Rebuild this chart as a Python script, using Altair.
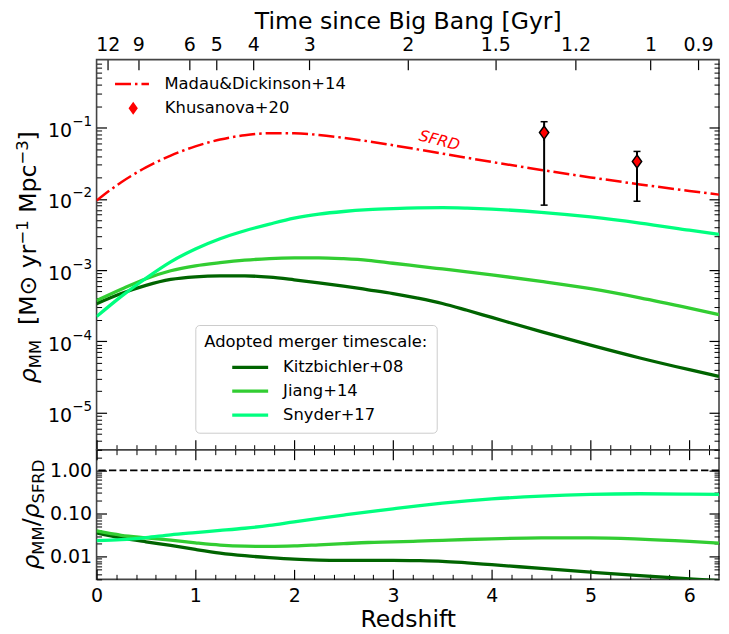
import altair as alt
import numpy as np
import pandas as pd

# ---------------- values ----------------
redshift = [0.0, 0.25, 0.5, 0.75, 1.0, 1.25, 1.5, 1.75, 2.0, 2.25, 2.5, 2.75,
            3.0, 3.25, 3.5, 3.75, 4.0, 4.5, 5.0, 5.5, 6.0, 6.3]
sfrd_md14 = [0.00943, 0.01711, 0.02756, 0.04043, 0.05459, 0.06798, 0.07813, 0.08326,
             0.08308, 0.07872, 0.07194, 0.06421, 0.05655, 0.04947, 0.04314, 0.03767,
             0.03295, 0.02546, 0.01999, 0.01594, 0.01291, 0.01145]
rho_kitzbichler = [3.37e-4, 4.68e-4, 6.10e-4, 7.38e-4, 8.04e-4, 8.26e-4, 8.26e-4, 7.94e-4,
                   7.29e-4, 6.61e-4, 5.94e-4, 5.28e-4, 4.68e-4, 4.03e-4, 3.39e-4, 2.72e-4,
                   2.16e-4, 1.365e-4, 8.81e-5, 5.82e-5, 3.98e-5, 3.20e-5]
rho_jiang = [3.72e-4, 5.37e-4, 7.55e-4, 9.77e-4, 1.146e-3, 1.268e-3, 1.374e-3, 1.445e-3,
             1.479e-3, 1.486e-3, 1.445e-3, 1.371e-3, 1.245e-3, 1.135e-3, 1.035e-3, 9.44e-4,
             8.57e-4, 6.92e-4, 5.46e-4, 4.07e-4, 2.92e-4, 2.37e-4]
rho_snyder = [2.22e-4, 4.27e-4, 7.67e-4, 1.303e-3, 1.977e-3, 2.754e-3, 3.565e-3, 4.416e-3,
              5.358e-3, 6.095e-3, 6.637e-3, 7.031e-3, 7.278e-3, 7.447e-3, 7.499e-3, 7.379e-3,
              7.161e-3, 6.457e-3, 5.559e-3, 4.571e-3, 3.631e-3, 3.162e-3]
models = ["Kitzbichler+08", "Jiang+14", "Snyder+17"]
model_colors = ["#006400", "#32CD32", "#00FF7F"]
md_label = "Madau&Dickinson+14"
kh_label = "Khusanova+20"
kh_z = [4.53, 5.47]
kh_rho = [0.0851, 0.0335]
kh_lo = [0.00815, 0.00925]
kh_hi = [0.121, 0.0463]
time_ticks = [12, 9, 6, 5, 4, 3, 2, 1.5, 1.2, 1, 0.9]
top_y_ticks = [1e-5, 1e-4, 1e-3, 1e-2, 1e-1]
ratio_y_ticks = [0.01, 0.1, 1.0]
z_ticks = [0, 1, 2, 3, 4, 5, 6]


def z_at_age(t_gyr, H0=70.0, Om=0.3):
    OL = 1.0 - Om
    t_H = 977.8 / H0
    x = np.sinh(1.5 * np.sqrt(OL) * t_gyr / t_H)
    return (x / np.sqrt(OL / Om)) ** (-2.0 / 3.0) - 1.0


time_z = [round(float(z_at_age(t)), 4) for t in time_ticks]
time_lab = [f"{t:g}" for t in time_ticks]
time_expr = f"'{time_lab[-1]}'"
for i in range(len(time_z) - 2, -1, -1):
    mid = (time_z[i] + time_z[i + 1]) / 2
    time_expr = f"datum.value < {mid:.4f} ? '{time_lab[i]}' : ({time_expr})"

z_minor = [round(0.2 * i, 1) for i in range(1, 32) if i % 5 != 0]
top_y_minor = [m * 10.0 ** e for e in range(-6, 0) for m in range(2, 10)
               if 3e-6 <= m * 10.0 ** e < 0.9]
ratio_y_minor = [m * 10.0 ** e for e in range(-3, 1) for m in range(2, 10)
                 if 0.003 <= m * 10.0 ** e <= 3.0]

# ---------------- tables ----------------
df_sfrd = pd.DataFrame({"z": redshift, "val": sfrd_md14, "label": md_label})
rows = []
for name, arr in zip(models, [rho_kitzbichler, rho_jiang, rho_snyder]):
    for zz, v, s in zip(redshift, arr, sfrd_md14):
        rows.append({"z": zz, "val": v, "ratio": v / s, "model": name})
df_mod = pd.DataFrame(rows)
df_kh = pd.DataFrame({"z": kh_z, "val": kh_rho, "lo": kh_lo, "hi": kh_hi, "label": kh_label})
df_caps = pd.DataFrame({"z": kh_z + kh_z, "val": kh_lo + kh_hi})

W, H1, H2 = 624, 391, 130
FONT = "DejaVu Sans"


def xsc():
    return alt.Scale(domain=[0, 6.3], nice=False, zero=False)


ys1 = alt.Scale(type="log", domain=[3e-6, 0.9], nice=False)
ys2 = alt.Scale(type="log", domain=[0.003, 3.0], nice=False)


def tick_ax(orient, values, size, offset, width=1.2):
    return alt.Axis(orient=orient, values=values, offset=offset, tickSize=size,
                    tickWidth=width, tickColor="black", labels=False, domain=False,
                    grid=False, title=None, ticks=True)


def carrier(df, field, yscale, xaxis, yaxis):
    return alt.Chart(df).mark_point(opacity=0, size=1, clip=True).encode(
        x=alt.X("z:Q", scale=xsc(), axis=xaxis),
        y=alt.Y(f"{field}:Q", scale=yscale, axis=yaxis),
    )


def piece(text, x, y, size, italic=False):
    return alt.Chart(pd.DataFrame({"t": [text]})).mark_text(
        angle=270, align="left", baseline="alphabetic", fontSize=size, font=FONT,
        fontStyle="italic" if italic else "normal", color="black",
    ).encode(x=alt.value(x), y=alt.value(y), text="t:N")


# ---------------- legends ----------------
wide_line = "M-2,0L2,0"
leg_md = alt.Legend(orient="none", legendX=25.5, legendY=14.5, title=None,
                    symbolType=wide_line, symbolSize=289, symbolStrokeWidth=2.5,
                    symbolStrokeColor="red", labelFontSize=16.4, labelOffset=22.5,
                    labelLimit=0, padding=0)
leg_kh = alt.Legend(orient="none", legendX=28.5, legendY=40.5, title=None, symbolSize=169,
                    symbolFillColor="red", symbolStrokeColor="black", symbolStrokeWidth=1.5,
                    symbolOpacity=1, labelFontSize=16.4, labelOffset=23.5, labelLimit=0,
                    padding=0)
leg_mod = alt.Legend(orient="none", legendX=99, legendY=266, title="Adopted merger timescale:",
                     titleFontSize=16.4, titlePadding=6, titleLimit=0, labelFontSize=16.4,
                     labelLimit=0, symbolType=wide_line, symbolSize=324,
                     symbolStrokeWidth=3.3, symbolOffset=35, labelOffset=22, rowPadding=4,
                     padding=9, fillColor="white", strokeColor="#cccccc", cornerRadius=4)

diamond = "M0,-1.3L0,-1M0,1L0,1.3M0,-1L0.72,0L0,1L-0.72,0Z"

# ---------------- top panel ----------------
sfrd_line = alt.Chart(df_sfrd).mark_line(color="red", strokeWidth=2.5, clip=True,
                                         interpolate="monotone").encode(
    x=alt.X("z:Q", scale=xsc(), axis=None),
    y=alt.Y("val:Q", scale=ys1, axis=None),
    strokeDash=alt.StrokeDash("label:N", scale=alt.Scale(domain=[md_label],
                                                         range=[[16, 4, 2.5, 4]]),
                              legend=leg_md),
)
model_lines = alt.Chart(df_mod).mark_line(strokeWidth=3.3, clip=True,
                                          interpolate="monotone").encode(
    x=alt.X("z:Q", scale=xsc(), axis=None),
    y=alt.Y("val:Q", scale=ys1, axis=None),
    color=alt.Color("model:N", scale=alt.Scale(domain=models, range=model_colors),
                    legend=leg_mod),
)
errbars = alt.Chart(df_kh).mark_rule(color="black", strokeWidth=2).encode(
    x=alt.X("z:Q", scale=xsc(), axis=None),
    y=alt.Y("lo:Q", scale=ys1, axis=None),
    y2="hi:Q",
)
caps = alt.Chart(df_caps).mark_point(shape="stroke", size=49, color="black",
                                     strokeWidth=1.5, opacity=1).encode(
    x=alt.X("z:Q", scale=xsc(), axis=None),
    y=alt.Y("val:Q", scale=ys1, axis=None),
)
points = alt.Chart(df_kh).mark_point(filled=True, fill="red", stroke="black",
                                     strokeWidth=1.5, size=169, opacity=1).encode(
    x=alt.X("z:Q", scale=xsc(), axis=None),
    y=alt.Y("val:Q", scale=ys1, axis=None),
    shape=alt.Shape("label:N", scale=alt.Scale(domain=[kh_label], range=[diamond]),
                    legend=leg_kh),
)
sfrd_text = alt.Chart(pd.DataFrame({"t": ["SFRD"]})).mark_text(
    color="red", fontStyle="italic", fontSize=15.5, font=FONT, angle=14,
    align="center", baseline="middle").encode(
    x=alt.XDatum(3.47, axis=None), y=alt.YDatum(0.066, axis=None), text="t:N")

ax_ten = alt.Axis(orient="left", values=top_y_ticks, labelExpr="'10'", ticks=False,
                  domain=False, grid=False, title=None, labelFontSize=19, labelPadding=25,
                  labelOffset=3, labelFlush=False, labelOverlap=False)
ax_sup = alt.Axis(orient="left", values=top_y_ticks,
                  labelExpr="'\u2212' + round(-log(datum.value)/LN10)", ticks=False,
                  domain=False, grid=False, title=None, labelFontSize=13.5, labelPadding=5,
                  labelOffset=-6, labelFlush=False, labelOverlap=False)
ax_time = alt.Axis(orient="top", values=time_z, labelExpr=time_expr, ticks=False,
                   domain=False, grid=False, title="Time since Big Bang [Gyr]",
                   titleFontSize=23.6, titlePadding=2, titleFontWeight="normal",
                   labelFontSize=19, labelPadding=5, labelFlush=False, labelOverlap=False)

top_carriers = [
    carrier(df_sfrd, "val", ys1, ax_time, ax_ten),
    carrier(df_sfrd, "val", ys1, tick_ax("bottom", time_z, 10, -H1), ax_sup),
    carrier(df_sfrd, "val", ys1, tick_ax("top", z_ticks, 10, -H1), tick_ax("right", top_y_ticks, 10, -W)),
    carrier(df_sfrd, "val", ys1, tick_ax("top", z_minor, 5, -H1, 1.0), tick_ax("right", top_y_minor, 5, -W, 1.0)),
    carrier(df_sfrd, "val", ys1, None, tick_ax("left", top_y_ticks, 10, -W)),
    carrier(df_sfrd, "val", ys1, None, tick_ax("left", top_y_minor, 5, -W, 1.0)),
]

top_title = [
    piece("\u03c1", -61, 324.3, 23.6, True),
    piece("MM", -56, 309.4, 16.5),
    piece("[M\u2299 yr", -61, 266.0, 23.6),
    piece("\u22121", -69, 185.3, 16.5),
    piece("Mpc", -61, 153.5, 23.6),
    piece("\u22123", -69, 105.2, 16.5),
    piece("]", -61, 81.0, 23.6),
]

top = alt.layer(sfrd_line, model_lines, errbars, caps, points, sfrd_text,
                *top_carriers, *top_title).resolve_axis(
    x="independent", y="independent").properties(width=W, height=H1)

# ---------------- bottom panel ----------------
ratio_lines = alt.Chart(df_mod).mark_line(strokeWidth=3.3, clip=True,
                                          interpolate="monotone").encode(
    x=alt.X("z:Q", scale=xsc(), axis=None),
    y=alt.Y("ratio:Q", scale=ys2, axis=None),
    color=alt.Color("model:N", scale=alt.Scale(domain=models, range=model_colors),
                    legend=None),
)
unity = alt.Chart(pd.DataFrame({"r": [1.0]})).mark_rule(
    color="black", strokeWidth=1.8, strokeDash=[7.4, 3.2]).encode(
    y=alt.Y("r:Q", scale=ys2, axis=None))

ax_z = alt.Axis(orient="bottom", values=z_ticks, format="d", ticks=False, domain=False,
                grid=False, title="Redshift", titleFontSize=23.6, titlePadding=2,
                titleFontWeight="normal", labelFontSize=19, labelPadding=7,
                labelFlush=False, labelOverlap=False)
ax_ratio = alt.Axis(orient="left", values=ratio_y_ticks, format=".2f", ticks=False,
                    domain=False, grid=False, title=None, labelFontSize=19, labelPadding=5,
                    labelFlush=False, labelOverlap=False)

bot_carriers = [
    carrier(df_mod, "ratio", ys2, ax_z, ax_ratio),
    carrier(df_mod, "ratio", ys2, tick_ax("top", z_ticks, 10, -H2), tick_ax("right", ratio_y_ticks, 10, -W)),
    carrier(df_mod, "ratio", ys2, tick_ax("top", z_minor, 5, -H2, 1.0), tick_ax("right", ratio_y_minor, 5, -W, 1.0)),
    carrier(df_mod, "ratio", ys2, tick_ax("bottom", z_ticks, 10, -H2), tick_ax("left", ratio_y_ticks, 10, -W)),
    carrier(df_mod, "ratio", ys2, tick_ax("bottom", z_minor, 5, -H2, 1.0), tick_ax("left", ratio_y_minor, 5, -W, 1.0)),
]

bot_title = [
    piece("\u03c1", -58, 120.25, 23.6, True),
    piece("MM", -53, 105.35, 16.5),
    piece("/", -58, 76.85, 23.6),
    piece("\u03c1", -58, 68.9, 23.6, True),
    piece("SFRD", -53, 54.0, 16.5),
]

bottom = alt.layer(ratio_lines, unity, *bot_carriers, *bot_title).resolve_axis(
    x="independent", y="independent").properties(width=W, height=H2)

chart = alt.vconcat(top, bottom, spacing=0, bounds="flush",
                    padding={"left": 5.8, "top": 0, "right": 0, "bottom": 0}).resolve_scale(
    color="independent", strokeDash="independent", shape="independent", x="independent"
).configure_view(stroke="#444444", strokeWidth=1.6).configure_axis(
    labelFont=FONT, titleFont=FONT, labelColor="black", titleColor="black",
).configure_legend(
    labelFont=FONT, titleFont=FONT, labelColor="black", titleColor="black",
    titleFontWeight="normal",
)

chart.save("out.html", embed_options={"renderer": "svg", "actions": False})
